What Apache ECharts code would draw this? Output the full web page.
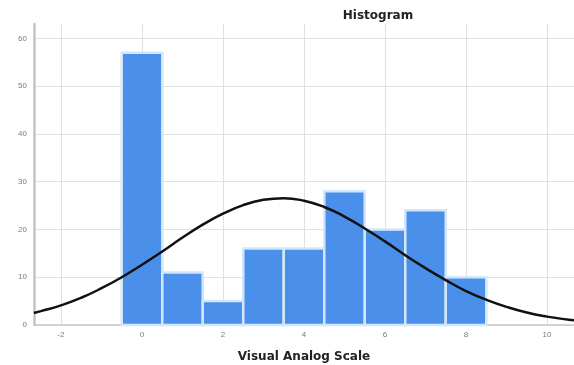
<!DOCTYPE html>
<html>
<head>
<meta charset="utf-8">
<script src="https://cdn.jsdelivr.net/npm/echarts@6/dist/echarts.min.js"></script>
<style>
  html, body { margin: 0; padding: 0; background: #fff; }
  #chart { width: 574px; height: 365px; }
</style>
</head>
<body>
<div id="chart"></div>
<script>
// Histogram bins (score value) and their frequencies
const binValues = [0, 1, 2, 3, 4, 5, 6, 7, 8];
const binCounts = [57, 11, 5, 16, 16, 28, 20, 24, 10];

// Fitted normal curve, sampled along the x axis
const curveX = [-2.67, -2.5, -2, -1.5, -1, -0.5, 0, 0.5, 1, 1.5, 2, 2.5, 3, 3.5, 4, 4.5, 5, 5.5, 6, 6.5, 7, 7.5, 8, 8.5, 9, 9.5, 10, 10.5, 10.67];
const curveY = [2.5, 2.9, 4.1, 5.7, 7.7, 10.0, 12.6, 15.4, 18.3, 21.0, 23.3, 25.1, 26.2, 26.55, 26.0, 24.7, 22.7, 20.2, 17.5, 14.6, 11.9, 9.4, 7.1, 5.3, 3.8, 2.6, 1.75, 1.15, 1.0];

// Axis tick values that carry labels and grid lines
const xTickLabels = [-2, 0, 2, 4, 6, 8, 10];
const yTickLabels = [0, 10, 20, 30, 40, 50, 60];

const chart = echarts.init(document.getElementById('chart'));

const labelStyle = { color: '#7a7a7a', fontSize: 8, fontFamily: 'Liberation Sans' };
const gridLine = { color: '#e0e0e0', width: 1, type: 'solid' };

chart.setOption({
  animation: false,
  title: {
    text: 'Histogram',
    left: 373,
    top: 5,
    textAlign: 'center',
    textStyle: { fontSize: 12, fontWeight: 'bold', color: '#222', fontFamily: 'DejaVu Sans' }
  },
  grid: { left: 34, right: 0, top: 24, bottom: 40, containLabel: false, outerBoundsMode: 'none' },
  xAxis: {
    type: 'value',
    min: -8 / 3,
    max: 32 / 3,
    name: 'Visual Analog Scale',
    nameLocation: 'middle',
    nameGap: 26,
    nameTextStyle: { fontSize: 12, fontWeight: 'bold', color: '#222', fontFamily: 'DejaVu Sans' },
    axisLine: { show: true, onZero: false, lineStyle: { color: '#c4c4c4', width: 1.5 } },
    axisTick: { show: false, customValues: xTickLabels },
    axisLabel: Object.assign({ margin: 6, customValues: xTickLabels }, labelStyle),
    splitLine: { show: false }
  },
  yAxis: {
    type: 'value',
    min: 0,
    max: 63,
    axisLine: { show: true, onZero: false, lineStyle: { color: '#c4c4c4', width: 2.5 } },
    axisTick: { show: false, customValues: yTickLabels },
    axisLabel: Object.assign({ margin: 7, customValues: yTickLabels }, labelStyle),
    splitLine: { show: false }
  },
  series: [
    {
      // grid lines at the labelled tick values, kept under the bars
      type: 'line',
      data: [],
      z: 0,
      markLine: {
        z: 0,
        silent: true,
        symbol: 'none',
        label: { show: false },
        lineStyle: gridLine,
        data: xTickLabels.map(v => ({ xAxis: v }))
          .concat(yTickLabels.filter(v => v > 0).map(v => ({ yAxis: v })))
      }
    },
    {
      type: 'custom',
      data: binValues.map((v, i) => [v, binCounts[i]]),
      renderItem: function (params, api) {
        const x = api.value(0);
        const y = api.value(1);
        const p0 = api.coord([x - 0.5, y]);
        const p1 = api.coord([x + 0.5, 0]);
        return {
          type: 'rect',
          shape: { x: p0[0], y: p0[1], width: p1[0] - p0[0], height: p1[1] - p0[1] },
          style: { fill: '#4a90ea', stroke: '#d4e6fb', lineWidth: 2.5 }
        };
      },
      z: 2
    },
    {
      type: 'line',
      data: curveX.map((x, i) => [x, curveY[i]]),
      smooth: true,
      showSymbol: false,
      lineStyle: { color: '#111', width: 2.5 },
      z: 3
    }
  ]
});
</script>
</body>
</html>
